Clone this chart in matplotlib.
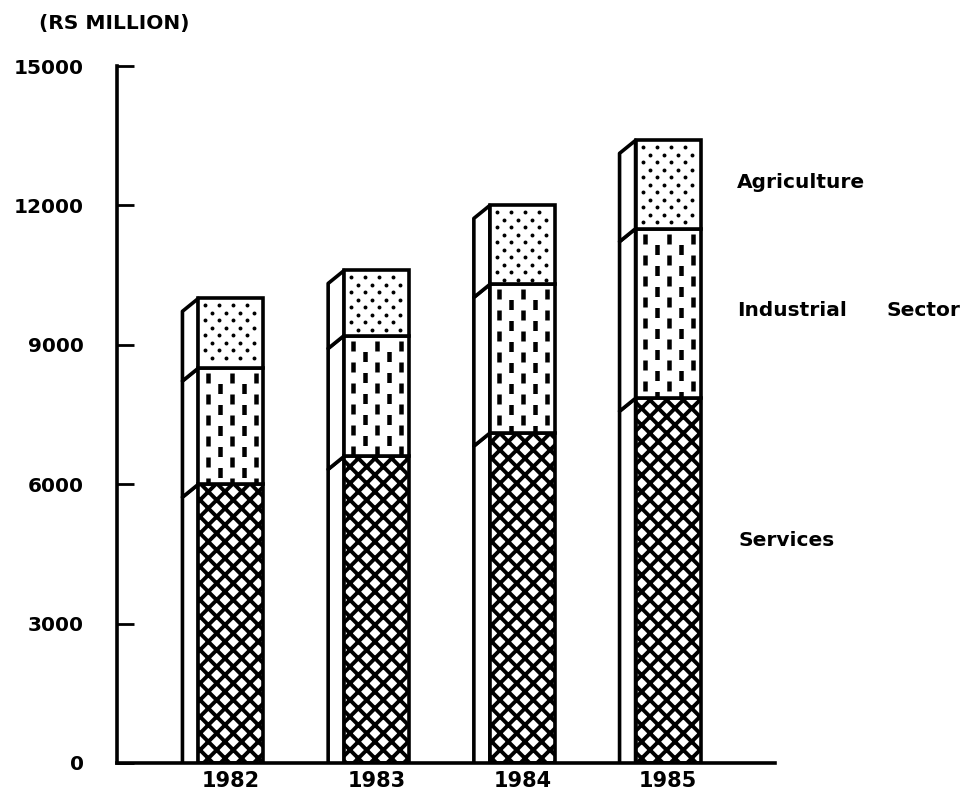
import numpy as np
import matplotlib
matplotlib.use('Agg')
import matplotlib.pyplot as plt
from matplotlib.patches import Polygon

# ---- data (Rs million) ----
years = ['1982', '1983', '1984', '1985']
services = [6000, 6600, 7100, 7850]
industry = [2500, 2600, 3200, 3650]
agriculture = [1500, 1400, 1700, 1900]
yticks = [0, 3000, 6000, 9000, 12000, 15000]
unit_label = '(RS MILLION)'
sector_names = ['Services', 'Industrial', 'Sector', 'Agriculture']

plt.rcParams['font.family'] = 'DejaVu Sans'
plt.rcParams['font.weight'] = 'bold'
plt.rcParams['lines.scale_dashes'] = False
plt.rcParams['hatch.linewidth'] = 2.8
plt.rcParams['hatch.color'] = 'black'

W, H = 969, 793
fig = plt.figure(figsize=(W / 100, H / 100), dpi=100)
ax_l, ax_r, ax_b, ax_t = 117, 775, 763, 66
ax = fig.add_axes([ax_l / W, 1 - ax_b / H, (ax_r - ax_l) / W, (ax_b - ax_t) / H])
xmin, xmax = -0.782, 3.734
ymax = 15000
ax.set_xlim(xmin, xmax)
ax.set_ylim(0, ymax)
px_x = (ax_r - ax_l) / (xmax - xmin)   # pixels per x unit
px_y = (ax_b - ax_t) / ymax            # pixels per y unit

x = np.arange(len(years))
width = 0.446
serv = np.array(services)
ind = np.array(industry)
agr = np.array(agriculture)

lw = 2.6
common = dict(width=width, color='white', edgecolor='black', linewidth=lw, zorder=3)
b_serv = ax.bar(x, serv, hatch='xx', **common)
b_ind = ax.bar(x, ind, bottom=serv, **common)
b_agr = ax.bar(x, agr, bottom=serv + ind, **common)

# oblique side faces (to the left, sloping down)
d = 16 / px_x
h = 13 / px_y
for bars in (b_serv, b_ind, b_agr):
    for r in bars:
        xl = r.get_x()
        y0 = r.get_y()
        y1 = y0 + r.get_height()
        poly = Polygon([(xl, y1), (xl - d, y1 - h), (xl - d, y0 - h), (xl, y0)],
                       closed=True, facecolor='white', edgecolor='black',
                       linewidth=lw, zorder=2.5, joinstyle='round')
        ax.add_patch(poly)

# industrial sector: vertical dashes pattern
pt = 0.72  # points per pixel
for r in b_ind:
    x0, w = r.get_x(), r.get_width()
    y0, hh = r.get_y(), r.get_height()
    ncol = 5
    for k in range(ncol):
        xc = x0 + w * (0.14 + 0.185 * k)
        off = (k % 2) * 10.5 * pt
        ln, = ax.plot([xc, xc], [y0 + hh - 5 / px_y, y0], color='black',
                      linewidth=4.5 * pt, solid_capstyle='butt',
                      linestyle=(off, (10 * pt, 11 * pt)), zorder=3.5)
        ln.set_clip_path(r)

# agriculture: dotted pattern
for r in b_agr:
    x0, w = r.get_x(), r.get_width()
    y0, hh = r.get_y(), r.get_height()
    ys = np.arange(y0 + hh - 7 / px_y, y0 + 3 / px_y, -7.5 / px_y)
    xs_all, ys_all = [], []
    for i, yy in enumerate(ys):
        start = x0 + (7 + (i % 2) * 7) / px_x
        xs = np.arange(start, x0 + w - 3 / px_x, 14 / px_x)
        xs_all.extend(xs)
        ys_all.extend([yy] * len(xs))
    sc = ax.scatter(xs_all, ys_all, s=8, color='black', zorder=3.5, linewidths=0)
    sc.set_clip_path(r)

# axes styling
for s in ('top', 'right'):
    ax.spines[s].set_visible(False)
for s in ('left', 'bottom'):
    ax.spines[s].set_linewidth(2.6)
    ax.spines[s].set_zorder(4)
ax.set_yticks(yticks)
ax.set_yticklabels([str(v) for v in yticks])
ax.tick_params(axis='y', direction='in', length=12, width=2, labelsize=14.5, pad=24)
ax.set_xticks(x)
ax.set_xticklabels(years)
ax.tick_params(axis='x', length=0, pad=6, labelsize=15)

fig.text(114 / W, 1 - 23 / H, unit_label, ha='center', va='center', fontsize=14.5,
         fontweight='bold')
fig.text(737 / W, 1 - 182 / H, sector_names[3], ha='left', va='center', fontsize=14.5)
fig.text(737 / W, 1 - 311 / H, sector_names[1], ha='left', va='center', fontsize=14.5)
fig.text(886 / W, 1 - 311 / H, sector_names[2], ha='left', va='center', fontsize=14.5)
fig.text(738 / W, 1 - 541 / H, sector_names[0], ha='left', va='center', fontsize=14.5)

fig.savefig('out.png', dpi=100)
